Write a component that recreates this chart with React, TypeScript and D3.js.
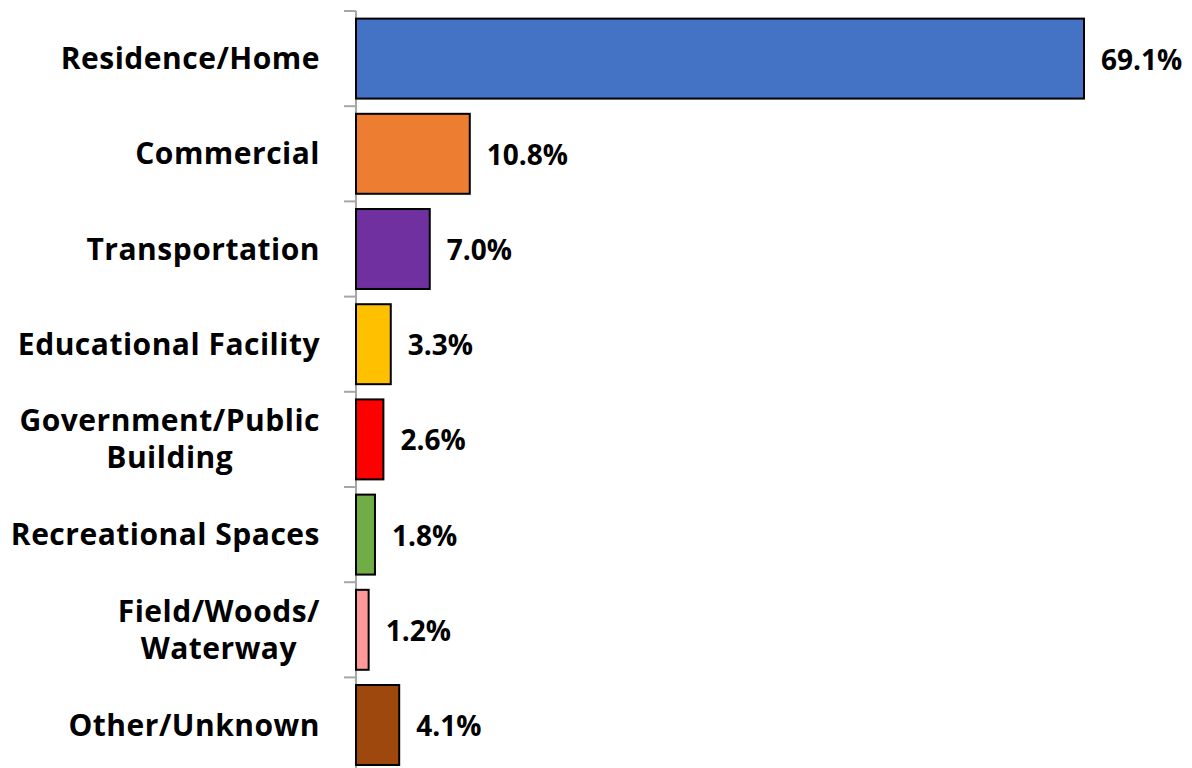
import React from "react";
import * as d3 from "d3";

const categories = [
  "Residence/Home",
  "Commercial",
  "Transportation",
  "Educational Facility",
  "Government/Public Building",
  "Recreational Spaces",
  "Field/Woods/ Waterway",
  "Other/Unknown",
];
const labelLines = [
  ["Residence/Home"],
  ["Commercial"],
  ["Transportation"],
  ["Educational Facility"],
  ["Government/Public", "Building"],
  ["Recreational Spaces"],
  ["Field/Woods/", "Waterway"],
  ["Other/Unknown"],
];
const values = [69.1, 10.8, 7.0, 3.3, 2.6, 1.8, 1.2, 4.1];
const colors = ["#4472C4", "#ED7D31", "#7030A0", "#FFC000", "#FF0000", "#70AD47", "#FF9999", "#9E480E"];

const LABEL_SIZE = 30;
const LETTER_SP = 0.5;
let ctx: CanvasRenderingContext2D | null = null;
function measure(s: string): number {
  if (!ctx) {
    const c = document.createElement("canvas");
    ctx = c.getContext("2d");
  }
  if (!ctx) return s.length * LABEL_SIZE * 0.55;
  ctx.font = `700 ${LABEL_SIZE}px 'Open Sans'`;
  return ctx.measureText(s).width + LETTER_SP * s.length;
}

export default function App() {
  const W = 1192, H = 768;
  const axisX = 356;
  const labelRight = 320;
  const x = d3.scaleLinear().domain([0, 69.1]).range([axisX, 1084]);
  const y = d3.scaleBand<string>().domain(categories).range([11, 11 + 95.2 * 8]).paddingInner(0.16).paddingOuter(0.08);
  const step = y.step();
  const font = "'Open Sans', Lato, sans-serif";
  return (
    <svg width={W} height={H} style={{ position: "absolute", left: 0, top: 0, background: "#fff" }}>
      {categories.map((c, i) => {
        const top = 11 + i * step;
        return <line key={"t" + i} x1={344} x2={axisX} y1={top} y2={top} stroke="#A6A6A6" strokeWidth={2} />;
      })}
      <line x1={axisX} x2={axisX} y1={11} y2={H} stroke="#A6A6A6" strokeWidth={2} />
      {categories.map((c, i) => {
        const by = y(c)!;
        const bh = y.bandwidth();
        const cy = by + bh / 2;
        const lines = labelLines[i];
        const multi = lines.length > 1;
        const maxW = multi ? Math.max(...lines.map(measure)) : 0;
        const lx = multi ? labelRight - maxW / 2 : labelRight;
        return (
          <g key={c}>
            <rect x={x(0)} y={by} width={x(values[i]) - x(0)} height={bh} fill={colors[i]} stroke="#000" strokeWidth={2} />
            <text x={x(values[i]) + 17} y={cy + 1} dy="0.36em" fontFamily={font} fontWeight={700} fontSize={28} fill="#000">
              {values[i].toFixed(1) + "%"}
            </text>
            <text x={lx} y={cy} textAnchor={multi ? "middle" : "end"} fontFamily={font} fontWeight={700} fontSize={LABEL_SIZE} letterSpacing={LETTER_SP} fill="#000">
              {lines.map((l, j) => (
                <tspan key={j} x={lx} y={cy + (j - (lines.length - 1) / 2) * 37} dy="0.35em">{l}</tspan>
              ))}
            </text>
          </g>
        );
      })}
    </svg>
  );
}
